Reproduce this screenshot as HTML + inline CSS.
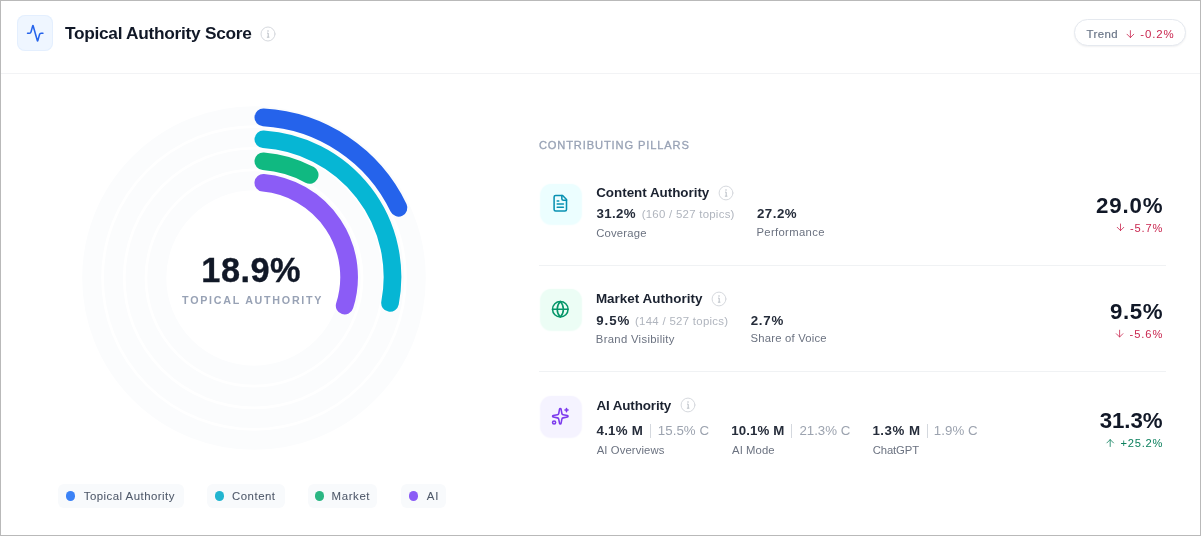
<!DOCTYPE html>
<html lang="en"><head><meta charset="utf-8"><title>Topical Authority Score</title>
<style>
html,body{margin:0;padding:0;background:#fff}
body{width:1201px;height:536px;position:relative;overflow:hidden;font-family:"Liberation Sans",sans-serif}
.abs{position:absolute;display:block}
.t{position:absolute;line-height:1;white-space:pre;display:block}
.txt{position:absolute;left:0;top:0;width:1201px;height:536px;will-change:transform}
.frame{position:absolute;left:0;top:0;width:1199px;height:534px;border:1px solid #b9b9b9}
.hr{position:absolute;height:1px;background:#f0f2f4}
.box{position:absolute;border-radius:11px}
.pill{position:absolute;top:484px;height:24px;border-radius:6px;background:#f8fafc}
.dot{position:absolute;width:9.4px;height:9.6px;border-radius:50%;top:491.2px}
.bar{position:absolute;width:1px;height:14px;background:#d4d8de;top:424px}
</style></head><body>
<div class="frame"></div>

<div class="hr" style="left:1px;top:73px;width:1199px;background:#f2f3f5"></div>
<div class="box" style="left:17px;top:15px;width:36px;height:36px;border-radius:8px;background:#eff6ff;box-shadow:inset 0 0 0 1px rgba(219,234,254,.55)"></div>
<svg class="abs" style="left:26.05px;top:24.0px" width="18.5" height="18.5" viewBox="0 0 24 24" fill="none" stroke="#2563eb" stroke-width="2" stroke-linecap="round" stroke-linejoin="round"><path d="M22 12h-2.48a2 2 0 0 0-1.93 1.46l-2.35 8.36a.25.25 0 0 1-.48 0L9.24 2.18a.25.25 0 0 0-.48 0l-2.35 8.36A2 2 0 0 1 4.49 12H2"/></svg>
<svg class="abs" style="left:259.25px;top:24.60px" width="18" height="18" viewBox="0 0 18 18" fill="none" stroke-linecap="round"><circle cx="9" cy="9" r="7.0" stroke="#d6d9de" stroke-width="1"/><path d="M8.1 8.1H9.2V12.1M7.9 12.2H10.4" stroke="#b9bec6" stroke-width="1.0" stroke-linecap="butt"/><circle cx="9" cy="5.9" r="0.75" fill="#b9bec6"/></svg>
<div class="abs" style="left:1074px;top:19px;width:110px;height:25px;border:1px solid #e5e9ef;border-radius:14px;background:#fff;box-shadow:0 1px 2px rgba(15,23,42,.06)"></div>
<svg class="abs" style="left:0;top:0" width="1201" height="536" viewBox="0 0 1201 536"><circle cx="254.0" cy="278.0" r="162.3" fill="none" stroke="#fbfcfd" stroke-width="19"/><circle cx="254.0" cy="278.0" r="140.6" fill="none" stroke="#fbfcfd" stroke-width="19"/><circle cx="254.0" cy="278.0" r="118.9" fill="none" stroke="#fbfcfd" stroke-width="19"/><circle cx="254.0" cy="278.0" r="97.2" fill="none" stroke="#fbfcfd" stroke-width="19"/><path d="M263.35 117.45A159.8 159.8 0 0 1 398.52 207.77" fill="none" stroke="#2563eb" stroke-width="17.7" stroke-linecap="round"/><path d="M263.34 139.28A138.0 138.0 0 0 1 390.04 302.92" fill="none" stroke="#06b6d4" stroke-width="17.7" stroke-linecap="round"/><path d="M263.34 161.29A116.05 116.05 0 0 1 309.66 174.90" fill="none" stroke="#10b981" stroke-width="17.7" stroke-linecap="round"/><path d="M263.34 182.81A94.6 94.6 0 0 1 344.65 305.67" fill="none" stroke="#8b5cf6" stroke-width="17.7" stroke-linecap="round"/></svg>
<div class="pill" style="left:58px;width:126.4px"></div><div class="dot" style="left:65.8px;background:#3b82f6"></div>
<div class="pill" style="left:207px;width:78px"></div><div class="dot" style="left:214.7px;background:#22b5d0"></div>
<div class="pill" style="left:307.6px;width:69.89999999999998px"></div><div class="dot" style="left:315.0px;background:#2bb683"></div>
<div class="pill" style="left:401px;width:44.69999999999999px"></div><div class="dot" style="left:409.1px;background:#8b5cf6"></div>
<div class="hr" style="left:539px;top:265px;width:627px"></div>
<div class="hr" style="left:539px;top:371px;width:627px"></div>
<div class="box" style="left:540.5px;top:183.9px;width:40.5px;height:40.5px;background:#ecfeff;box-shadow:0 .5px 1.5px .3px #ecfeff"></div>
<svg class="abs" style="left:551.4000000000001px;top:194.25px" width="18.6" height="18.6" viewBox="0 0 24 24" fill="none" stroke="#0891b2" stroke-width="2" stroke-linecap="round" stroke-linejoin="round"><path d="M15 2H6a2 2 0 0 0-2 2v16a2 2 0 0 0 2 2h12a2 2 0 0 0 2-2V7Z"/><path d="M14 2v4a2 2 0 0 0 2 2h4"/><path d="M10 9H8"/><path d="M16 13H8"/><path d="M16 17H8"/></svg>
<div class="box" style="left:540.5px;top:289.0px;width:40.5px;height:40.5px;background:#ecfdf5;box-shadow:0 .5px 1.5px .3px #ecfdf5"></div>
<svg class="abs" style="left:551.4000000000001px;top:300.25px" width="18.6" height="18.6" viewBox="0 0 24 24" fill="none" stroke="#059669" stroke-width="2" stroke-linecap="round" stroke-linejoin="round"><circle cx="12" cy="12" r="10"/><path d="M12 2a14.5 14.5 0 0 0 0 20 14.5 14.5 0 0 0 0-20"/><path d="M2 12h20"/></svg>
<div class="box" style="left:540.5px;top:396.1px;width:40.5px;height:40.5px;background:#f5f3ff;box-shadow:0 .5px 1.5px .3px #f5f3ff"></div>
<svg class="abs" style="left:551.4000000000001px;top:407.35px" width="18.6" height="18.6" viewBox="0 0 24 24" fill="none" stroke="#7c3aed" stroke-width="2" stroke-linecap="round" stroke-linejoin="round"><path d="M11.017 2.814a1 1 0 0 1 1.966 0l1.051 5.558a2 2 0 0 0 1.594 1.594l5.558 1.051a1 1 0 0 1 0 1.966l-5.558 1.051a2 2 0 0 0-1.594 1.594l-1.051 5.558a1 1 0 0 1-1.966 0l-1.051-5.558a2 2 0 0 0-1.594-1.594l-5.558-1.051a1 1 0 0 1 0-1.966l5.558-1.051a2 2 0 0 0 1.594-1.594z"/><path d="M20 2v4"/><path d="M22 4h-4"/><circle cx="4" cy="20" r="2"/></svg>
<svg class="abs" style="left:716.90px;top:183.80px" width="18" height="18" viewBox="0 0 18 18" fill="none" stroke-linecap="round"><circle cx="9" cy="9" r="6.9" stroke="#d6d9de" stroke-width="1"/><path d="M8.1 8.1H9.2V12.1M7.9 12.2H10.4" stroke="#b9bec6" stroke-width="1.0" stroke-linecap="butt"/><circle cx="9" cy="5.9" r="0.75" fill="#b9bec6"/></svg>
<svg class="abs" style="left:710.15px;top:289.70px" width="18" height="18" viewBox="0 0 18 18" fill="none" stroke-linecap="round"><circle cx="9" cy="9" r="6.9" stroke="#d6d9de" stroke-width="1"/><path d="M8.1 8.1H9.2V12.1M7.9 12.2H10.4" stroke="#b9bec6" stroke-width="1.0" stroke-linecap="butt"/><circle cx="9" cy="5.9" r="0.75" fill="#b9bec6"/></svg>
<svg class="abs" style="left:678.75px;top:395.80px" width="18" height="18" viewBox="0 0 18 18" fill="none" stroke-linecap="round"><circle cx="9" cy="9" r="6.9" stroke="#d6d9de" stroke-width="1"/><path d="M8.1 8.1H9.2V12.1M7.9 12.2H10.4" stroke="#b9bec6" stroke-width="1.0" stroke-linecap="butt"/><circle cx="9" cy="5.9" r="0.75" fill="#b9bec6"/></svg>
<div class="bar" style="left:650.2px"></div>
<div class="bar" style="left:791.3px"></div>
<div class="bar" style="left:926.7px"></div>
<svg class="abs" style="left:0;top:0" width="1201" height="536" viewBox="0 0 1201 536"><path d="M1130.40 30.60V37.60M1127.00 34.20L1130.40 37.60L1133.80 34.20" fill="none" stroke="#c9264f" stroke-width="0.95" stroke-opacity=".85" stroke-linecap="round" stroke-linejoin="round"/><path d="M1120.50 224.00V230.60M1117.20 227.30L1120.50 230.60L1123.80 227.30" fill="none" stroke="#c9264f" stroke-width="0.95" stroke-opacity=".85" stroke-linecap="round" stroke-linejoin="round"/><path d="M1119.60 330.20V337.00M1116.30 333.70L1119.60 337.00L1122.90 333.70" fill="none" stroke="#c9264f" stroke-width="0.95" stroke-opacity=".85" stroke-linecap="round" stroke-linejoin="round"/><path d="M1110.20 446.50V439.60M1106.90 442.90L1110.20 439.60L1113.50 442.90" fill="none" stroke="#0a7f5c" stroke-width="0.95" stroke-opacity=".85" stroke-linecap="round" stroke-linejoin="round"/></svg>
<div class="txt">
<span class="t" id="title" style="left:64.90px;top:24.56px;font-size:17.29px;font-weight:700;color:#111827;letter-spacing:-0.273px">Topical Authority Score</span>
<span class="t" id="trend" style="left:1086.60px;top:29.22px;font-size:11.43px;font-weight:400;color:#6b7688;letter-spacing:0.406px;-webkit-text-stroke:0.2px #6b7688">Trend</span>
<span class="t" id="trendv" style="left:1140.30px;top:29.22px;font-size:11.43px;font-weight:400;color:#c9264f;letter-spacing:0.851px">-0.2%</span>
<span class="t" id="big" style="left:201.36px;top:252.67px;font-size:34.29px;font-weight:700;color:#111827;letter-spacing:0.500px;-webkit-text-stroke:0.35px #111827">18.9%</span>
<span class="t" id="biglab" style="left:182.10px;top:294.63px;font-size:10.71px;font-weight:700;color:#98a2b5;letter-spacing:1.737px">TOPICAL AUTHORITY</span>
<span class="t" id="lg1" style="left:83.80px;top:490.62px;font-size:11.43px;font-weight:400;color:#4d5768;letter-spacing:0.466px;-webkit-text-stroke:0.05px #4d5768">Topical Authority</span>
<span class="t" id="lg2" style="left:232.00px;top:490.62px;font-size:11.43px;font-weight:400;color:#4d5768;letter-spacing:0.507px;-webkit-text-stroke:0.05px #4d5768">Content</span>
<span class="t" id="lg3" style="left:331.60px;top:490.62px;font-size:11.43px;font-weight:400;color:#4d5768;letter-spacing:0.609px;-webkit-text-stroke:0.05px #4d5768">Market</span>
<span class="t" id="lg4" style="left:426.70px;top:490.62px;font-size:11.43px;font-weight:400;color:#4d5768;letter-spacing:0.976px;-webkit-text-stroke:0.05px #4d5768">AI</span>
<span class="t" id="cp" style="left:538.90px;top:139.57px;font-size:11.14px;font-weight:400;color:#98a2b5;letter-spacing:0.865px;-webkit-text-stroke:0.3px #98a2b5">CONTRIBUTING PILLARS</span>
<span class="t" id="r1t" style="left:596.20px;top:185.83px;font-size:13.43px;font-weight:700;color:#1b2230;letter-spacing:-0.029px">Content Authority</span>
<span class="t" id="r1v" style="left:596.40px;top:206.75px;font-size:13.29px;font-weight:700;color:#252c3a;letter-spacing:0.385px">31.2%</span>
<span class="t" id="r1n" style="left:641.70px;top:209.32px;font-size:11.43px;font-weight:400;color:#b0b5be;letter-spacing:0.264px">(160 / 527 topics)</span>
<span class="t" id="r1l" style="left:596.20px;top:228.44px;font-size:11.29px;font-weight:400;color:#6b7280;letter-spacing:0.190px">Coverage</span>
<span class="t" id="r1v2" style="left:756.90px;top:206.85px;font-size:13.29px;font-weight:700;color:#252c3a;letter-spacing:0.510px">27.2%</span>
<span class="t" id="r1l2" style="left:756.40px;top:227.44px;font-size:11.29px;font-weight:400;color:#6b7280;letter-spacing:0.345px">Performance</span>
<span class="t" id="r1b" style="left:1096.10px;top:194.73px;font-size:22.29px;font-weight:700;color:#111827;letter-spacing:0.830px">29.0%</span>
<span class="t" id="r1d" style="left:1130.10px;top:223.37px;font-size:11.14px;font-weight:400;color:#c9264f;letter-spacing:0.801px">-5.7%</span>
<span class="t" id="r2t" style="left:595.90px;top:291.63px;font-size:13.43px;font-weight:700;color:#1b2230;letter-spacing:0.024px">Market Authority</span>
<span class="t" id="r2v" style="left:596.30px;top:313.75px;font-size:13.29px;font-weight:700;color:#252c3a;letter-spacing:0.910px">9.5%</span>
<span class="t" id="r2n" style="left:635.00px;top:316.32px;font-size:11.43px;font-weight:400;color:#b0b5be;letter-spacing:0.288px">(144 / 527 topics)</span>
<span class="t" id="r2l" style="left:595.80px;top:334.34px;font-size:11.29px;font-weight:400;color:#6b7280;letter-spacing:0.321px">Brand Visibility</span>
<span class="t" id="r2v2" style="left:750.70px;top:313.65px;font-size:13.29px;font-weight:700;color:#252c3a;letter-spacing:0.743px">2.7%</span>
<span class="t" id="r2l2" style="left:750.60px;top:333.44px;font-size:11.29px;font-weight:400;color:#6b7280;letter-spacing:0.196px">Share of Voice</span>
<span class="t" id="r2b" style="left:1110.00px;top:300.83px;font-size:22.29px;font-weight:700;color:#111827;letter-spacing:0.605px">9.5%</span>
<span class="t" id="r2d" style="left:1129.60px;top:329.47px;font-size:11.14px;font-weight:400;color:#c9264f;letter-spacing:0.926px">-5.6%</span>
<span class="t" id="r3t" style="left:596.40px;top:398.83px;font-size:13.43px;font-weight:700;color:#1b2230;letter-spacing:-0.125px">AI Authority</span>
<span class="t" id="r3v1" style="left:596.50px;top:423.75px;font-size:13.29px;font-weight:700;color:#252c3a;letter-spacing:0.264px">4.1% M</span>
<span class="t" id="r3c1" style="left:657.80px;top:423.75px;font-size:13.29px;font-weight:400;color:#9ca3af;letter-spacing:0.039px">15.5% C</span>
<span class="t" id="r3l1" style="left:596.70px;top:445.44px;font-size:11.29px;font-weight:400;color:#6b7280;letter-spacing:0.105px">AI Overviews</span>
<span class="t" id="r3v2" style="left:731.30px;top:423.75px;font-size:13.29px;font-weight:700;color:#252c3a;letter-spacing:0.089px">10.1% M</span>
<span class="t" id="r3c2" style="left:799.40px;top:423.75px;font-size:13.29px;font-weight:400;color:#9ca3af;letter-spacing:0.005px">21.3% C</span>
<span class="t" id="r3l2" style="left:732.10px;top:445.44px;font-size:11.29px;font-weight:400;color:#6b7280;letter-spacing:0.073px">AI Mode</span>
<span class="t" id="r3v3" style="left:872.40px;top:423.75px;font-size:13.29px;font-weight:700;color:#252c3a;letter-spacing:0.544px">1.3% M</span>
<span class="t" id="r3c3" style="left:933.70px;top:423.75px;font-size:13.29px;font-weight:400;color:#9ca3af;letter-spacing:0.084px">1.9% C</span>
<span class="t" id="r3l3" style="left:872.70px;top:445.44px;font-size:11.29px;font-weight:400;color:#6b7280;letter-spacing:-0.109px">ChatGPT</span>
<span class="t" id="r3b" style="left:1099.70px;top:409.73px;font-size:22.29px;font-weight:700;color:#111827;letter-spacing:-0.070px">31.3%</span>
<span class="t" id="r3d" style="left:1120.60px;top:438.37px;font-size:11.14px;font-weight:400;color:#0a7f5c;letter-spacing:0.743px">+25.2%</span>
</div>
</body></html>
